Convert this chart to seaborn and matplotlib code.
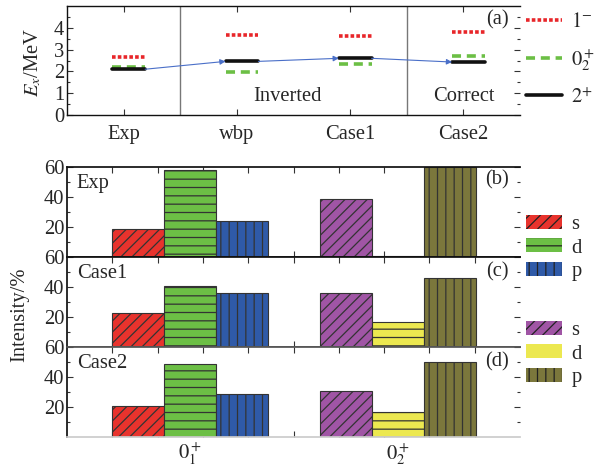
import numpy as np
import pandas as pd
import matplotlib
matplotlib.use('Agg')
import matplotlib.pyplot as plt
import seaborn as sns
from matplotlib.patches import Patch
from matplotlib.lines import Line2D

sns.set_theme(style='white')
plt.rcParams['font.family'] = ['Liberation Serif', 'DejaVu Serif']
plt.rcParams['mathtext.fontset'] = 'stix'
plt.rcParams['hatch.linewidth'] = 0.9
FS = 14.8

# ---------------- data ----------------
models = ['Exp', 'wbp', 'Case1', 'Case2']
E_1minus = [2.67, 3.69, 3.61, 3.79]
E_0plus2 = [2.20, 1.95, 2.34, 2.70]
E_2plus = [2.10, 2.46, 2.60, 2.43]

states = ['$0_1^+$', '$0_2^+$']
orbitals = ['s', 'd', 'p']
exp_01 = [19, 58, 24]
exp_02 = [39, 1, 60]
case1_01 = [23, 41, 36]
case1_02 = [36, 17, 46]
case2_01 = [21, 49, 28.5]
case2_02 = [31, 16.5, 50]
panel_names = ['Exp', 'Case1', 'Case2']
panel_tags = ['(b)', '(c)', '(d)']
panel_data = [(exp_01, exp_02), (case1_01, case1_02), (case2_01, case2_02)]

# ---------------- style ----------------
W, H = 596, 466
fig = plt.figure(figsize=(W / 100, H / 100), dpi=100)

def ax_rect(left, right, top, bottom):
    return [left / W, 1 - bottom / H, (right - left) / W, (bottom - top) / H]

level_styles = {
    '1-': dict(color='#e8262a', ls=(0, (1, 0.6)), lw=2.6),
    '0+2': dict(color='#6cbf45', ls=(0, (2.5, 1.6)), lw=2.6),
    '2+': dict(color='#111111', ls='-', lw=2.6),
}
off, hw = 0.045, 0.145

# ---------------- panel (a) ----------------
axa = fig.add_axes(ax_rect(67, 520, 6, 115))
for key, vals in [('1-', E_1minus), ('0+2', E_0plus2), ('2+', E_2plus)]:
    rows = []
    for i, (m, v) in enumerate(zip(models, vals)):
        rows.append(dict(model=m, x=i + off - hw, E=v))
        rows.append(dict(model=m, x=i + off + hw, E=v))
    df = pd.DataFrame(rows)
    st = level_styles[key]
    sns.lineplot(data=df, x='x', y='E', units='model', estimator=None,
                 color=st['color'], linestyle=st['ls'], linewidth=st['lw'],
                 ax=axa, legend=False)

for i in range(len(models) - 1):
    axa.annotate('', xy=(i + 1 + off - hw, E_2plus[i + 1]),
                 xytext=(i + off + hw, E_2plus[i]),
                 arrowprops=dict(arrowstyle='-|>', color='#4a6fc8', lw=0.8,
                                 mutation_scale=8, shrinkA=0, shrinkB=0))

axa.axvline(0.5, color='#777777', lw=1.0)
axa.axvline(2.5, color='#777777', lw=1.0)
axa.set_xlim(-0.5, 3.5)
axa.set_ylim(0, 5)
axa.set_xticks(range(len(models)))
axa.set_xticklabels(models, fontsize=FS)
axa.set_yticks([0, 1, 2, 3, 4])
axa.set_yticks(np.arange(0.5, 5, 1.0), minor=True)
axa.tick_params(axis='y', labelsize=FS, pad=2)
axa.tick_params(axis='x', pad=7)
axa.tick_params(which='both', direction='in', top=True, right=True,
                left=True, bottom=True, color='#333333')
axa.tick_params(which='major', length=4, width=0.8)
axa.tick_params(which='minor', length=2.5, width=0.8)
axa.set_xlabel('')
axa.set_ylabel('')
for s in ['left', 'bottom', 'top']:
    axa.spines[s].set_color('#111111')
    axa.spines[s].set_linewidth(1.0)
axa.spines['right'].set_visible(False)
axa.text(1.45, 0.85, 'Inverted', fontsize=FS, ha='center', va='center')
axa.text(3.0, 0.85, 'Correct', fontsize=FS, ha='center', va='center')
axa.text(3.3, 4.35, '(a)', fontsize=FS, ha='center', va='center')
fig.text(33 / W, 1 - 62 / H, '$E_x$/MeV', rotation=90, fontsize=FS,
         ha='center', va='center')

leg_a = [Line2D([0], [0], color=level_styles[k]['color'],
                linestyle=level_styles[k]['ls'], lw=level_styles[k]['lw'])
         for k in ['1-', '0+2', '2+']]
fig.legend(leg_a, ['$1^{-}$', '$0_2^+$', '$2^{+}$'], loc='center left',
           bbox_to_anchor=(526 / W, 1 - 60 / H), frameon=False, fontsize=FS,
           handlelength=1.75, labelspacing=0.75, handletextpad=0.45,
           borderpad=0, borderaxespad=0)

# ---------------- panels (b)-(d) ----------------
col_g1 = ['#e8332d', '#6cbf45', '#2f5aa8']
col_g2 = ['#a055a5', '#ece850', '#7b773c']
hatches = ['///', '--', '||']
tops = [167, 257, 347]
ppu = 208.0
x0 = (67 - 190) / ppu
x1 = (520 - 190) / ppu
minor_x = [(67 + 45.3 * k - 190) / ppu for k in range(1, 10)]

for pi in range(3):
    ax = fig.add_axes(ax_rect(67, 520, tops[pi], tops[pi] + 90))
    g1, g2 = panel_data[pi]
    rows = []
    for st_name, vals in zip(states, (g1, g2)):
        for orb, v in zip(orbitals, vals):
            rows.append(dict(state=st_name, orbital=orb, value=v))
    df = pd.DataFrame(rows)
    sns.barplot(data=df, x='state', y='value', hue='orbital', order=states,
                hue_order=orbitals, width=0.75, palette=col_g1, saturation=1,
                edgecolor='#333333', linewidth=0.8, legend=False, ax=ax,
                errorbar=None)
    for j, cont in enumerate(ax.containers):
        for bar in cont:
            cx = bar.get_x() + bar.get_width() / 2
            g = 0 if cx < 0.5 else 1
            bar.set_facecolor(col_g1[j] if g == 0 else col_g2[j])
            bar.set_hatch(hatches[j])
            bar.set_edgecolor('#333333')
    ax.set_xlim(x0, x1)
    ax.set_ylim(0, 60)
    ax.set_yticks([20, 40, 60])
    ax.set_yticks([10, 30, 50], minor=True)
    ax.set_xticks([0, 1])
    ax.set_xticks(minor_x, minor=True)
    if pi == 2:
        ax.set_xticklabels(states, fontsize=FS)
    else:
        ax.set_xticklabels(['', ''])
    ax.tick_params(axis='y', labelsize=FS, pad=2)
    ax.tick_params(which='both', direction='in', top=True, right=True,
                   left=True, bottom=True, color='#333333', width=0.8)
    ax.tick_params(axis='x', which='major', length=0, pad=3)
    ax.tick_params(axis='x', which='minor', length=4)
    ax.tick_params(axis='y', which='major', length=4)
    ax.tick_params(axis='y', which='minor', length=2.5)
    ax.set_xlabel('')
    ax.set_ylabel('')
    ax.spines['right'].set_visible(False)
    ax.spines['left'].set_color('#111111')
    ax.spines['top'].set_color('#111111' if pi < 2 else '#555555')
    ax.spines['bottom'].set_color('#111111' if pi == 0 else ('#555555' if pi == 1 else '#cccccc'))
    ax.text(0.022, 0.82, panel_names[pi], transform=ax.transAxes,
            fontsize=FS, ha='left', va='center')
    ax.text(0.949, 0.86 if pi == 0 else 0.83, panel_tags[pi],
            transform=ax.transAxes, fontsize=FS, ha='center', va='center')

fig.text(20 / W, 1 - 315 / H, 'Intensity/%', rotation=90, fontsize=FS,
         ha='center', va='center')

leg1 = [Patch(facecolor=c, edgecolor='#222222', hatch=h, lw=0)
        for c, h in zip(col_g1, hatches)]
leg2 = [Patch(facecolor=c, edgecolor='#222222', hatch=h, lw=0)
        for c, h in zip(col_g2, ['///', '', '||'])]
for handles, yc in [(leg1, 248), (leg2, 354)]:
    fig.legend(handles, orbitals, loc='center left',
               bbox_to_anchor=(526 / W, 1 - yc / H), frameon=False,
               fontsize=FS, handlelength=1.75, handleheight=0.65,
               labelspacing=0.22, handletextpad=0.45, borderpad=0,
               borderaxespad=0)

fig.savefig('out.png', dpi=100)
